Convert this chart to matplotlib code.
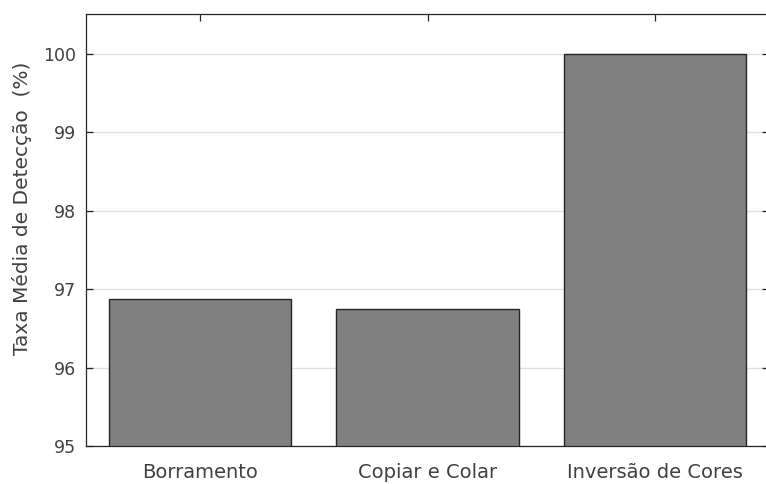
import matplotlib
matplotlib.use("Agg")
import matplotlib.pyplot as plt

categories = ["Borramento", "Copiar e Colar", "Inversão de Cores"]
values = [96.87, 96.75, 100.0]
yticks = [95, 96, 97, 98, 99, 100]

plt.rcParams['font.family'] = ['DejaVu Sans']
txt = '#404040'

fig = plt.figure(figsize=(7.66, 4.84), dpi=100)
ax = fig.add_axes([86/766, 38/484, 683/766, 432/484])

x = list(range(1, len(categories) + 1))
ax.bar(x, values, width=0.8, bottom=0, color='#808080', edgecolor='#262626', linewidth=1.0, zorder=2)

ax.set_xlim(0.5, 3.5)
ax.set_ylim(95, 100.51)
ax.set_xticks(x)
ax.set_xticklabels(categories)
ax.set_yticks(yticks)
ax.set_yticklabels([str(v) for v in yticks])

ax.set_axisbelow(True)
ax.yaxis.grid(True, color='#e0e0e0', linewidth=1.0)
ax.xaxis.grid(False)

for s in ax.spines.values():
    s.set_color('#262626')
    s.set_linewidth(0.9)

ax.tick_params(axis='both', direction='in', length=5, width=0.9, color='#262626',
               labelcolor=txt, top=True, right=True)
ax.tick_params(axis='x', pad=12, labelsize=14)
ax.tick_params(axis='y', pad=7, labelsize=12.5)

ax.set_ylabel("Taxa Média de Detecção  (%)", fontsize=14.5, color=txt)
ax.yaxis.label.set_va('center')
ax.yaxis.set_label_coords(-0.094, 0.551)

fig.savefig("out.png", dpi=100)
